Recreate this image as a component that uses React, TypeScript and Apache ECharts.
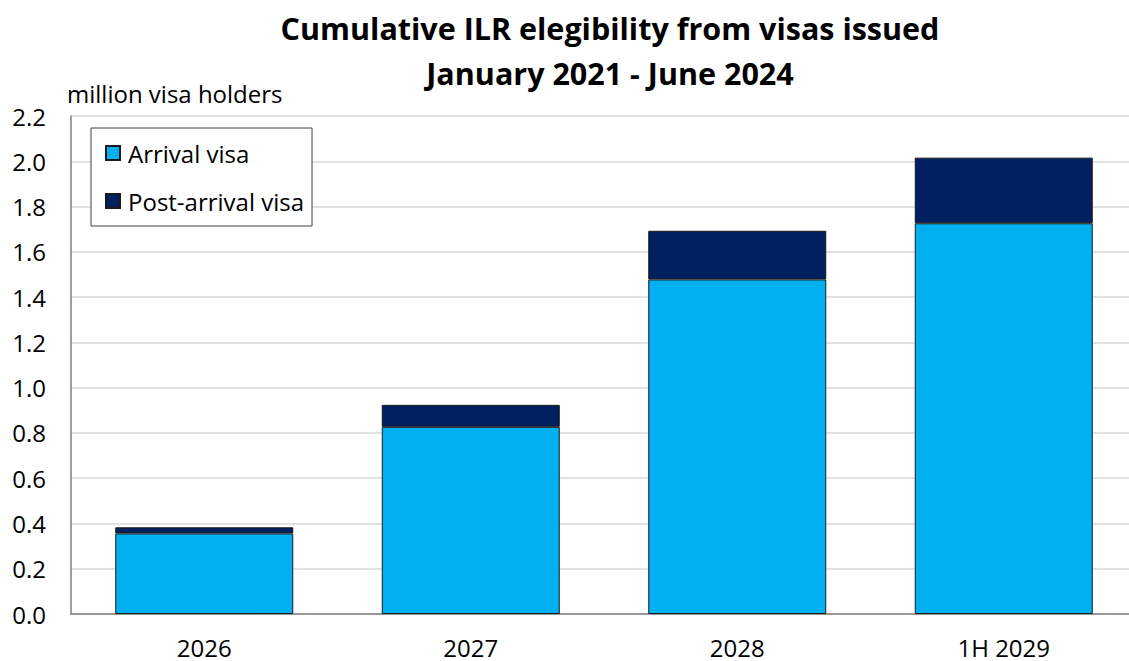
import React, { useEffect, useRef } from "react";
import * as echarts from "echarts";

const categories = ["2026", "2027", "2028", "1H 2029"];
const arrivalVisa = [0.356, 0.827, 1.478, 1.726];
const postArrivalVisa = [0.027, 0.097, 0.215, 0.29];
const yTicks = { min: 0, max: 2.2, interval: 0.2 };

const FONT = "'Open Sans', Lato, sans-serif";

export default function App() {
  const ref = useRef<HTMLDivElement>(null);
  useEffect(() => {
    if (!ref.current) return;
    const chart = echarts.init(ref.current, null, { renderer: "svg" });
    chart.setOption({
      animation: false,
      backgroundColor: "#ffffff",
      textStyle: { fontFamily: FONT },
      title: {
        text: "Cumulative ILR elegibility from visas issued\nJanuary 2021 - June 2024",
        left: 605,
        textAlign: "center",
        top: 0,
        textStyle: {
          fontFamily: FONT,
          fontSize: 30.5,
          fontWeight: "bold",
          color: "#000",
          lineHeight: 45,
        },
      },
      graphic: [
        {
          type: "text",
          left: 67,
          top: 81,
          style: {
            text: "million visa holders",
            font: `24px ${FONT}`,
            fill: "#000",
          },
        },
      ],
      legend: {
        orient: "vertical",
        left: 91,
        top: 128,
        padding: [13, 8, 13, 14],
        itemGap: 24,
        itemWidth: 14,
        itemHeight: 14,
        icon: "rect",
        borderColor: "#404040",
        borderWidth: 1,
        backgroundColor: "#fff",
        textStyle: { fontFamily: FONT, fontSize: 24, color: "#000", padding: [0, 0, 0, 3] },
        data: ["Arrival visa", "Post-arrival visa"],
      },
      grid: { left: 71, top: 116, width: 1066, height: 498, containLabel: false },
      xAxis: {
        type: "category",
        data: categories,
        axisLine: { show: true, lineStyle: { color: "#7f7f7f", width: 1.5 } },
        axisTick: { show: false },
        axisLabel: { fontFamily: FONT, fontSize: 24, lineHeight: 22, color: "#000", margin: 22 },
      },
      yAxis: {
        type: "value",
        min: yTicks.min,
        max: yTicks.max,
        interval: yTicks.interval,
        axisLine: { show: true, lineStyle: { color: "#7f7f7f", width: 1.5 } },
        axisTick: { show: false },
        splitLine: { lineStyle: { color: "#d9d9d9", width: 1.5 } },
        axisLabel: {
          fontFamily: FONT,
          fontSize: 24,
          color: "#000",
          margin: 25,
          formatter: (v: number) => v.toFixed(1),
        },
      },
      series: [
        {
          name: "Arrival visa",
          type: "bar",
          stack: "total",
          data: arrivalVisa,
          barWidth: 178,
          itemStyle: { color: "#00B0F0", borderColor: "#1a1a1a", borderWidth: 1 },
        },
        {
          name: "Post-arrival visa",
          type: "bar",
          stack: "total",
          data: postArrivalVisa,
          barWidth: 178,
          itemStyle: { color: "#002060", borderColor: "#1a1a1a", borderWidth: 1 },
        },
      ],
    });
    return () => chart.dispose();
  }, []);
  return (
    <div style={{ position: "absolute", left: 0, top: 0, width: 1129, height: 661, overflow: "hidden" }}>
      <div ref={ref} style={{ width: 1150, height: 661 }} />
    </div>
  );
}
